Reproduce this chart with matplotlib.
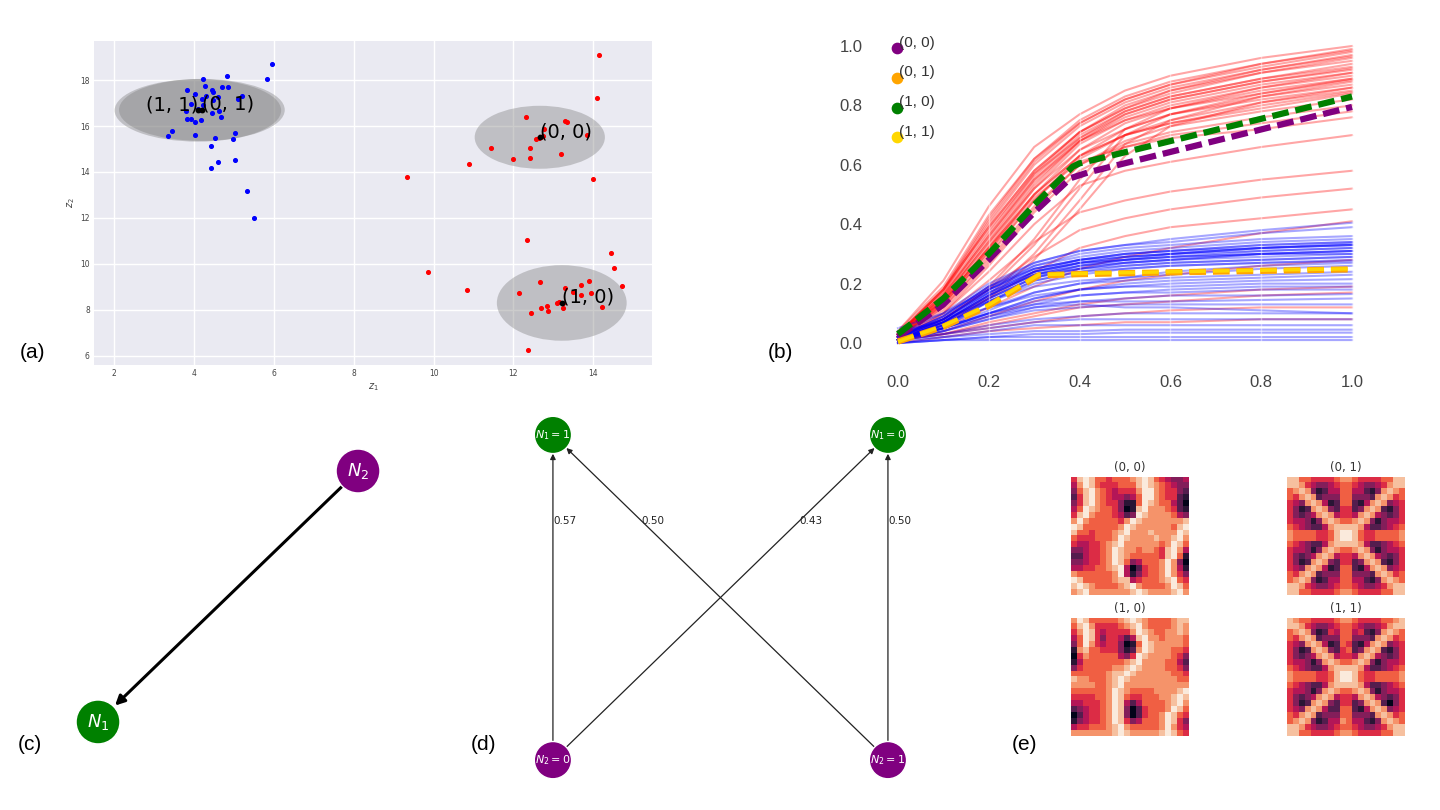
import numpy as np
import matplotlib
matplotlib.use("Agg")
import matplotlib.pyplot as plt
from matplotlib.patches import Ellipse
import seaborn as sns

plt.rcParams['lines.scale_dashes'] = False

# ---------------- (a) latent space ----------------
blue_z1 = [5.96, 5.83, 4.83, 4.22, 4.29, 3.84, 4.04, 4.45, 4.49, 4.71, 4.85, 3.94, 4.20, 4.31,
           4.60, 4.49, 5.10, 5.20, 3.79, 4.10, 4.14, 4.19, 4.22, 4.46, 4.64, 4.69, 3.84, 3.93,
           4.03, 4.17, 3.44, 3.34, 4.03, 4.53, 4.99, 5.02, 4.42, 4.60, 5.02, 4.43, 5.33, 5.51]
blue_z2 = [18.68, 18.03, 18.16, 18.06, 17.74, 17.55, 17.41, 17.55, 17.49, 17.68, 17.68, 16.94,
           17.17, 17.29, 17.25, 17.13, 17.19, 17.32, 16.65, 16.74, 16.68, 16.71, 16.93, 16.57,
           16.64, 16.38, 16.30, 16.29, 16.19, 16.26, 15.77, 15.55, 15.59, 15.46, 15.45, 15.68,
           15.12, 14.45, 14.51, 14.17, 13.16, 12.01]
red_z1 = [14.13, 14.09, 12.31, 13.29, 13.34, 13.85, 12.76, 12.57, 12.63, 12.68, 12.73, 11.45,
          12.41, 13.20, 11.99, 12.42, 10.89, 9.33, 14.00, 12.35, 14.44, 14.51, 9.85, 14.71,
          12.67, 13.69, 13.88, 10.83, 12.15, 13.30, 13.50, 13.68, 13.95, 12.70, 12.83, 12.86,
          12.43, 13.09, 13.14, 13.23, 13.25, 14.22, 12.37]
red_z2 = [19.10, 17.23, 16.39, 16.22, 16.16, 15.61, 15.86, 15.45, 15.48, 15.52, 15.55, 15.04,
          15.03, 14.80, 14.55, 14.62, 14.33, 13.78, 13.68, 11.03, 10.49, 9.84, 9.65, 9.03,
          9.19, 9.07, 9.26, 8.88, 8.75, 8.96, 8.77, 8.65, 8.75, 8.09, 8.16, 7.94, 7.86, 8.29,
          8.32, 8.28, 8.09, 8.14, 6.25]

cluster_labels = ["(1, 1)", "(0, 1)", "(0, 0)", "(1, 0)"]
cluster_z1 = [4.10, 4.20, 12.66, 13.21]
cluster_z2 = [16.68, 16.70, 15.51, 8.30]
ellipse_w = [4.17, 4.15, 3.26, 3.25]
ellipse_h = [2.72, 2.70, 2.74, 3.29]
label_ha = ["right", "left", "left", "left"]

# ---------------- (b) curves ----------------
curve_x = [0.0, 0.1, 0.2, 0.3, 0.4, 0.5, 0.6, 0.8, 1.0]
red_curves = [
    [0.04, 0.21, 0.46, 0.66, 0.77, 0.85, 0.90, 0.96, 1.00],
    [0.04, 0.19, 0.43, 0.62, 0.75, 0.83, 0.88, 0.94, 0.99],
    [0.03, 0.18, 0.42, 0.62, 0.74, 0.82, 0.87, 0.94, 0.985],
    [0.03, 0.18, 0.41, 0.61, 0.74, 0.82, 0.87, 0.93, 0.98],
    [0.03, 0.17, 0.40, 0.60, 0.73, 0.81, 0.86, 0.92, 0.97],
    [0.03, 0.18, 0.39, 0.58, 0.71, 0.79, 0.85, 0.92, 0.965],
    [0.03, 0.18, 0.39, 0.58, 0.71, 0.79, 0.84, 0.91, 0.96],
    [0.02, 0.16, 0.37, 0.57, 0.71, 0.80, 0.85, 0.91, 0.95],
    [0.03, 0.16, 0.36, 0.56, 0.70, 0.78, 0.83, 0.89, 0.94],
    [0.02, 0.15, 0.35, 0.55, 0.69, 0.78, 0.83, 0.89, 0.93],
    [0.03, 0.17, 0.38, 0.57, 0.69, 0.77, 0.82, 0.88, 0.925],
    [0.03, 0.15, 0.34, 0.54, 0.68, 0.77, 0.82, 0.88, 0.92],
    [0.02, 0.14, 0.33, 0.53, 0.68, 0.76, 0.81, 0.87, 0.91],
    [0.02, 0.14, 0.32, 0.52, 0.67, 0.75, 0.80, 0.86, 0.90],
    [0.03, 0.16, 0.36, 0.55, 0.68, 0.75, 0.79, 0.85, 0.89],
    [0.02, 0.13, 0.31, 0.50, 0.65, 0.74, 0.79, 0.84, 0.885],
    [0.03, 0.15, 0.34, 0.52, 0.65, 0.72, 0.77, 0.83, 0.87],
    [0.02, 0.12, 0.29, 0.48, 0.63, 0.72, 0.77, 0.82, 0.86],
    [0.02, 0.13, 0.30, 0.48, 0.62, 0.70, 0.75, 0.81, 0.85],
    [0.03, 0.14, 0.32, 0.50, 0.63, 0.70, 0.74, 0.80, 0.845],
    [0.03, 0.14, 0.32, 0.50, 0.63, 0.70, 0.74, 0.79, 0.84],
    [0.02, 0.11, 0.27, 0.45, 0.60, 0.68, 0.73, 0.78, 0.82],
    [0.02, 0.12, 0.28, 0.46, 0.60, 0.67, 0.71, 0.76, 0.80],
    [0.01, 0.10, 0.26, 0.44, 0.58, 0.66, 0.70, 0.74, 0.78],
    [0.02, 0.13, 0.31, 0.49, 0.61, 0.66, 0.69, 0.72, 0.76],
    [0.02, 0.08, 0.18, 0.33, 0.52, 0.70, 0.77, 0.84, 0.89],
    [0.01, 0.07, 0.16, 0.30, 0.48, 0.67, 0.75, 0.83, 0.88],
    [0.02, 0.08, 0.19, 0.35, 0.55, 0.72, 0.79, 0.86, 0.91],
    [0.01, 0.06, 0.15, 0.28, 0.45, 0.63, 0.73, 0.81, 0.86],
    [0.02, 0.10, 0.24, 0.40, 0.53, 0.58, 0.61, 0.66, 0.70],
    [0.02, 0.09, 0.21, 0.34, 0.44, 0.48, 0.51, 0.55, 0.58],
    [0.01, 0.08, 0.18, 0.29, 0.38, 0.42, 0.45, 0.49, 0.52],
    [0.01, 0.07, 0.15, 0.24, 0.32, 0.36, 0.39, 0.42, 0.45],
    [0.01, 0.05, 0.12, 0.19, 0.25, 0.29, 0.32, 0.37, 0.41],
    [0.01, 0.04, 0.09, 0.14, 0.18, 0.21, 0.23, 0.26, 0.28],
    [0.01, 0.03, 0.07, 0.10, 0.13, 0.15, 0.16, 0.18, 0.19],
    [0.01, 0.03, 0.06, 0.09, 0.12, 0.13, 0.14, 0.16, 0.17],
    [0.01, 0.03, 0.05, 0.07, 0.09, 0.10, 0.11, 0.12, 0.12],
    [0.00, 0.02, 0.04, 0.05, 0.06, 0.07, 0.07, 0.08, 0.08],
]
blue_curves = [
    [0.02, 0.09, 0.19, 0.26, 0.29, 0.31, 0.32, 0.34, 0.35],
    [0.02, 0.08, 0.18, 0.25, 0.28, 0.30, 0.31, 0.33, 0.34],
    [0.01, 0.08, 0.18, 0.25, 0.28, 0.30, 0.31, 0.32, 0.335],
    [0.02, 0.09, 0.19, 0.25, 0.28, 0.29, 0.30, 0.32, 0.33],
    [0.01, 0.07, 0.17, 0.24, 0.27, 0.29, 0.30, 0.31, 0.32],
    [0.01, 0.07, 0.16, 0.23, 0.27, 0.28, 0.29, 0.31, 0.32],
    [0.02, 0.08, 0.17, 0.24, 0.27, 0.28, 0.29, 0.30, 0.31],
    [0.01, 0.06, 0.15, 0.22, 0.26, 0.28, 0.29, 0.30, 0.31],
    [0.01, 0.07, 0.16, 0.23, 0.26, 0.27, 0.28, 0.30, 0.30],
    [0.01, 0.06, 0.15, 0.22, 0.25, 0.27, 0.28, 0.29, 0.30],
    [0.02, 0.08, 0.17, 0.23, 0.25, 0.26, 0.27, 0.28, 0.29],
    [0.01, 0.06, 0.14, 0.21, 0.24, 0.26, 0.27, 0.28, 0.29],
    [0.01, 0.05, 0.14, 0.21, 0.24, 0.25, 0.26, 0.27, 0.28],
    [0.01, 0.06, 0.14, 0.20, 0.23, 0.25, 0.26, 0.27, 0.275],
    [0.02, 0.07, 0.16, 0.23, 0.26, 0.28, 0.30, 0.32, 0.33],
    [0.01, 0.07, 0.16, 0.24, 0.28, 0.30, 0.31, 0.33, 0.34],
    [0.02, 0.08, 0.18, 0.26, 0.30, 0.32, 0.33, 0.35, 0.36],
    [0.03, 0.10, 0.20, 0.27, 0.31, 0.33, 0.34, 0.37, 0.39],
    [0.02, 0.09, 0.19, 0.27, 0.31, 0.33, 0.35, 0.38, 0.405],
    [0.05, 0.10, 0.18, 0.24, 0.27, 0.29, 0.30, 0.32, 0.33],
    [0.04, 0.07, 0.12, 0.17, 0.20, 0.22, 0.24, 0.26, 0.27],
    [0.03, 0.08, 0.14, 0.19, 0.21, 0.22, 0.23, 0.25, 0.26],
    [0.02, 0.07, 0.15, 0.22, 0.25, 0.27, 0.28, 0.30, 0.31],
    [0.01, 0.05, 0.11, 0.17, 0.20, 0.21, 0.22, 0.23, 0.24],
    [0.01, 0.05, 0.10, 0.15, 0.18, 0.20, 0.21, 0.22, 0.23],
    [0.01, 0.05, 0.10, 0.15, 0.18, 0.19, 0.20, 0.21, 0.215],
    [0.02, 0.06, 0.12, 0.16, 0.18, 0.19, 0.19, 0.20, 0.20],
    [0.01, 0.04, 0.09, 0.13, 0.16, 0.17, 0.18, 0.19, 0.19],
    [0.01, 0.05, 0.10, 0.14, 0.16, 0.17, 0.17, 0.18, 0.18],
    [0.01, 0.04, 0.08, 0.12, 0.14, 0.15, 0.16, 0.16, 0.165],
    [0.01, 0.05, 0.10, 0.13, 0.14, 0.14, 0.14, 0.145, 0.15],
    [0.01, 0.04, 0.08, 0.11, 0.12, 0.13, 0.13, 0.13, 0.13],
    [0.02, 0.05, 0.09, 0.12, 0.13, 0.12, 0.12, 0.11, 0.10],
    [0.01, 0.03, 0.06, 0.08, 0.09, 0.10, 0.10, 0.10, 0.10],
    [0.01, 0.03, 0.05, 0.07, 0.08, 0.08, 0.08, 0.08, 0.08],
    [0.01, 0.02, 0.04, 0.06, 0.06, 0.06, 0.06, 0.06, 0.06],
    [0.00, 0.02, 0.03, 0.04, 0.04, 0.045, 0.045, 0.045, 0.045],
    [0.00, 0.01, 0.02, 0.03, 0.03, 0.035, 0.035, 0.035, 0.035],
    [0.00, 0.01, 0.02, 0.02, 0.02, 0.02, 0.02, 0.02, 0.02],
    [0.00, 0.01, 0.01, 0.01, 0.01, 0.01, 0.01, 0.01, 0.01],
]

# class means (dashed)
mean_labels = ["(0, 0)", "(0, 1)", "(1, 0)", "(1, 1)"]
mean_colors = ["purple", "orange", "green", "gold"]
mean_x = [
    [0.0, 0.1, 0.2, 0.3, 0.38, 0.42, 1.0],
    [0.0, 0.1, 0.2, 0.31, 0.4, 0.6, 1.0],
    [0.0, 0.1, 0.2, 0.3, 0.385, 0.40, 1.0],
    [0.0, 0.1, 0.2, 0.31, 0.4, 0.6, 1.0],
]
mean_y = [
    [0.02, 0.13, 0.28, 0.44, 0.555, 0.575, 0.795],
    [0.005, 0.055, 0.125, 0.228, 0.232, 0.238, 0.248],
    [0.03, 0.15, 0.30, 0.465, 0.594, 0.605, 0.83],
    [0.005, 0.058, 0.128, 0.230, 0.234, 0.240, 0.250],
]
mean_lw = [4.5, 4.5, 4.5, 2.5]

# ---------------- (c) / (d) graphs ----------------
c_nodes = ["$N_1$", "$N_2$"]
c_x = [0.0, 1.0]
c_y = [0.0, 1.0]
c_colors = ["green", "purple"]

d_nodes = ["$N_1 = 1$", "$N_1 = 0$", "$N_2 = 0$", "$N_2 = 1$"]
d_x = [0.0, 1.0, 0.0, 1.0]
d_y = [1.0, 1.0, 0.0, 0.0]
d_colors = ["green", "green", "purple", "purple"]
d_edges = [(2, 0), (3, 0), (2, 1), (3, 1)]
d_weights = ["0.57", "0.50", "0.43", "0.50"]

# ---------------- (e) heatmaps ----------------
heat_titles = ["(0, 0)", "(0, 1)", "(1, 0)", "(1, 1)"]
heat_00 = [
    "58986656667898654334", "47986555666898765433", "36897654555799765532",
    "25897654434699765521", "35897655311698766420", "46987665301897776521",
    "58976665423987777643", "79766666579877777778", "98666666798777777689",
    "86656667897778777798", "65556667987777877897", "54455678977777767986",
    "33455679877677658974", "22455679876666658961", "33455679863466679730",
    "44556678940256679741", "76666667941356679753", "98666667884566678965",
    "89876666789766667986", "78977777778987777897",
]
heat_01 = [
    "88665555677655556688", "88754334566543345788", "67873124466442137876",
    "65787233366333278756", "54378741266214787345", "53127873255237872135",
    "53234787455478743235", "54431378766787313445", "65432247888874223456",
    "76666556899865566667", "76666556899865566667", "65432247888874223456",
    "54431378766787313445", "53234787455478743235", "53127873255237872135",
    "54378741266214787345", "65787233366333278756", "67873124466442137876",
    "88754334566543345788", "88665555677655556688",
]
heat_10 = [
    "79866666789876666788", "68975555678976666787", "57985455557987667787",
    "46985355424897767776", "36975455301698777776", "17866555312798777665",
    "05766666435987777653", "14666666678977776642", "35666667789877776653",
    "66666678898777777665", "87766678987777777766", "77776678977777777777",
    "66666679876666777789", "55556679865566677898", "44555679842466667897",
    "23455679830256667986", "02455679830256679865", "13455679853466679853",
    "45566678976666679754", "77777778987777789865",
]
heat_11 = [
    "87665555677655556678", "88754334566543345788", "67873125466452137876",
    "65787233366333278756", "54378741265214787345", "53127873256237872135",
    "53234787455478743235", "54431378766787313445", "65432247888874223456",
    "76666556899865566667", "76666556899865566667", "65432247888874223456",
    "54431378766787313445", "53234787455478743235", "53127873255237872035",
    "54378742266214787345", "65787233366333278756", "67873124476442137876",
    "88754334566543345788", "88665555677655556688",
]

fig = plt.figure(figsize=(14.4, 8.1), dpi=100)

# ---- panel (a) ----
ax = fig.add_axes([0.0653, 0.5494, 0.3875, 0.4])
ax.set_facecolor('#EAEAF2')
for s in ax.spines.values():
    s.set_visible(False)
ax.grid(color='white', lw=1)
ax.set_axisbelow(True)
for cx, cy, w, h in zip(cluster_z1, cluster_z2, ellipse_w, ellipse_h):
    ax.add_patch(Ellipse((cx, cy), w, h, facecolor='gray', alpha=0.4, edgecolor='none', zorder=1))
ax.scatter(blue_z1, blue_z2, s=7, color='blue', zorder=2)
ax.scatter(red_z1, red_z2, s=7, color='red', zorder=2)
ax.scatter(cluster_z1, cluster_z2, s=10, color='black', zorder=3)
for lab, cx, cy, ha in zip(cluster_labels, cluster_z1, cluster_z2, label_ha):
    ax.text(cx, cy, lab, fontsize=14, ha=ha, zorder=4)
ax.set_xlim(1.5, 15.47)
ax.set_ylim(5.6, 19.7)
ax.set_xticks([2, 4, 6, 8, 10, 12, 14])
ax.set_yticks([6, 8, 10, 12, 14, 16, 18])
ax.tick_params(length=0, labelsize=5.5, labelcolor='#444', pad=3)
ax.set_xlabel('$z_1$', fontsize=7, color='#444', labelpad=2)
ax.set_ylabel('$z_2$', fontsize=7, color='#444', labelpad=2)

# ---- panel (b) ----
ax = fig.add_axes([0.6097, 0.5556, 0.3431, 0.4074])
for row in red_curves:
    ax.plot(curve_x, row, color='red', alpha=0.35, lw=1.5)
for row in blue_curves:
    ax.plot(curve_x, row, color='blue', alpha=0.35, lw=1.5)
for xs, ys, col, lw in zip(mean_x, mean_y, mean_colors, mean_lw):
    ax.plot(xs, ys, color=col, lw=lw, dashes=[12, 5], zorder=5)
for s in ax.spines.values():
    s.set_visible(False)
ax.grid(axis='x', color='white', lw=1, alpha=0.45)
ax.set_axisbelow(False)
ax.set_xlim(-0.044, 1.044)
ax.set_ylim(-0.057, 1.054)
ticks = [0.0, 0.2, 0.4, 0.6, 0.8, 1.0]
ax.set_xticks(ticks, [f"{t:.1f}" for t in ticks])
ax.set_yticks(ticks, [f"{t:.1f}" for t in ticks])
ax.tick_params(length=0, labelsize=12, labelcolor='#444', pad=11)
for lab in ax.get_xticklabels() + ax.get_yticklabels():
    lab.set_family('Liberation Sans')
for i, (lab, col) in enumerate(zip(mean_labels, mean_colors)):
    ax.scatter(0.038, 0.945 - i * 0.09, s=55, color=col, transform=ax.transAxes, zorder=6)
    ax.text(0.043, 0.962 - i * 0.09, lab, transform=ax.transAxes, fontsize=11,
            family='Liberation Sans', color='#333', va='center', zorder=7)

# ---- panel (c) ----
ax = fig.add_axes([0.0403, 0.0593, 0.2361, 0.4086])
ax.set_xlim(-0.1538, 1.1538)
ax.set_ylim(-0.1594, 1.1594)
ax.axis('off')
ax.annotate('', xy=(c_x[0], c_y[0]), xytext=(c_x[1], c_y[1]),
            arrowprops=dict(arrowstyle='-|>', color='black', lw=2.2,
                            shrinkA=16, shrinkB=17, mutation_scale=14))
ax.scatter(c_x, c_y, s=1000, c=c_colors, edgecolors='white', linewidths=1, zorder=3)
for lab, x, y in zip(c_nodes, c_x, c_y):
    ax.text(x, y, lab, color='white', fontsize=13, ha='center', va='center', zorder=4)

# ---- panel (d) ----
ax = fig.add_axes([0.3562, 0.0123, 0.2882, 0.5])
ax.set_xlim(-0.1194, 1.1194)
ax.set_ylim(-0.1227, 1.1227)
ax.axis('off')
for (a, b), w in zip(d_edges, d_weights):
    ax.annotate('', xy=(d_x[b], d_y[b]), xytext=(d_x[a], d_y[a]),
                arrowprops=dict(arrowstyle='-|>', color='#222', lw=0.9,
                                shrinkA=13, shrinkB=13.5, mutation_scale=8))
    t = 0.735
    lx = d_x[a] + t * (d_x[b] - d_x[a])
    ly = d_y[a] + t * (d_y[b] - d_y[a])
    ax.text(lx, ly, w, fontsize=7.5, color='#222', ha='left', va='center')
ax.scatter(d_x, d_y, s=720, c=d_colors, edgecolors='white', linewidths=1, zorder=3)
for lab, x, y in zip(d_nodes, d_x, d_y):
    ax.text(x, y, lab, color='white', fontsize=8, ha='center', va='center', zorder=4)

# ---- panel (e) ----
cmap = sns.color_palette("rocket", as_cmap=True)
heat_pos = [[0.7437, 0.2654], [0.8937, 0.2654], [0.7437, 0.0914], [0.8937, 0.0914]]
for title, grid, pos in zip(heat_titles, [heat_00, heat_01, heat_10, heat_11], heat_pos):
    ax = fig.add_axes([pos[0], pos[1], 0.0819, 0.1457])
    arr = np.array([[int(ch) for ch in row] for row in grid])
    ax.imshow(arr, cmap=cmap, vmin=0, vmax=9, aspect='auto', interpolation='nearest')
    ax.set_title(title, fontsize=8.5, color='#333', pad=4)
    ax.axis('off')

# panel letters
for lab, x, y in [("(a)", 20, 352), ("(b)", 768, 352), ("(c)", 18, 745),
                  ("(d)", 471, 745), ("(e)", 1012, 745)]:
    fig.text(x / 1440, 1 - y / 810, lab, fontsize=15, family='Liberation Sans', va='center')

fig.savefig("out.png", dpi=100)
